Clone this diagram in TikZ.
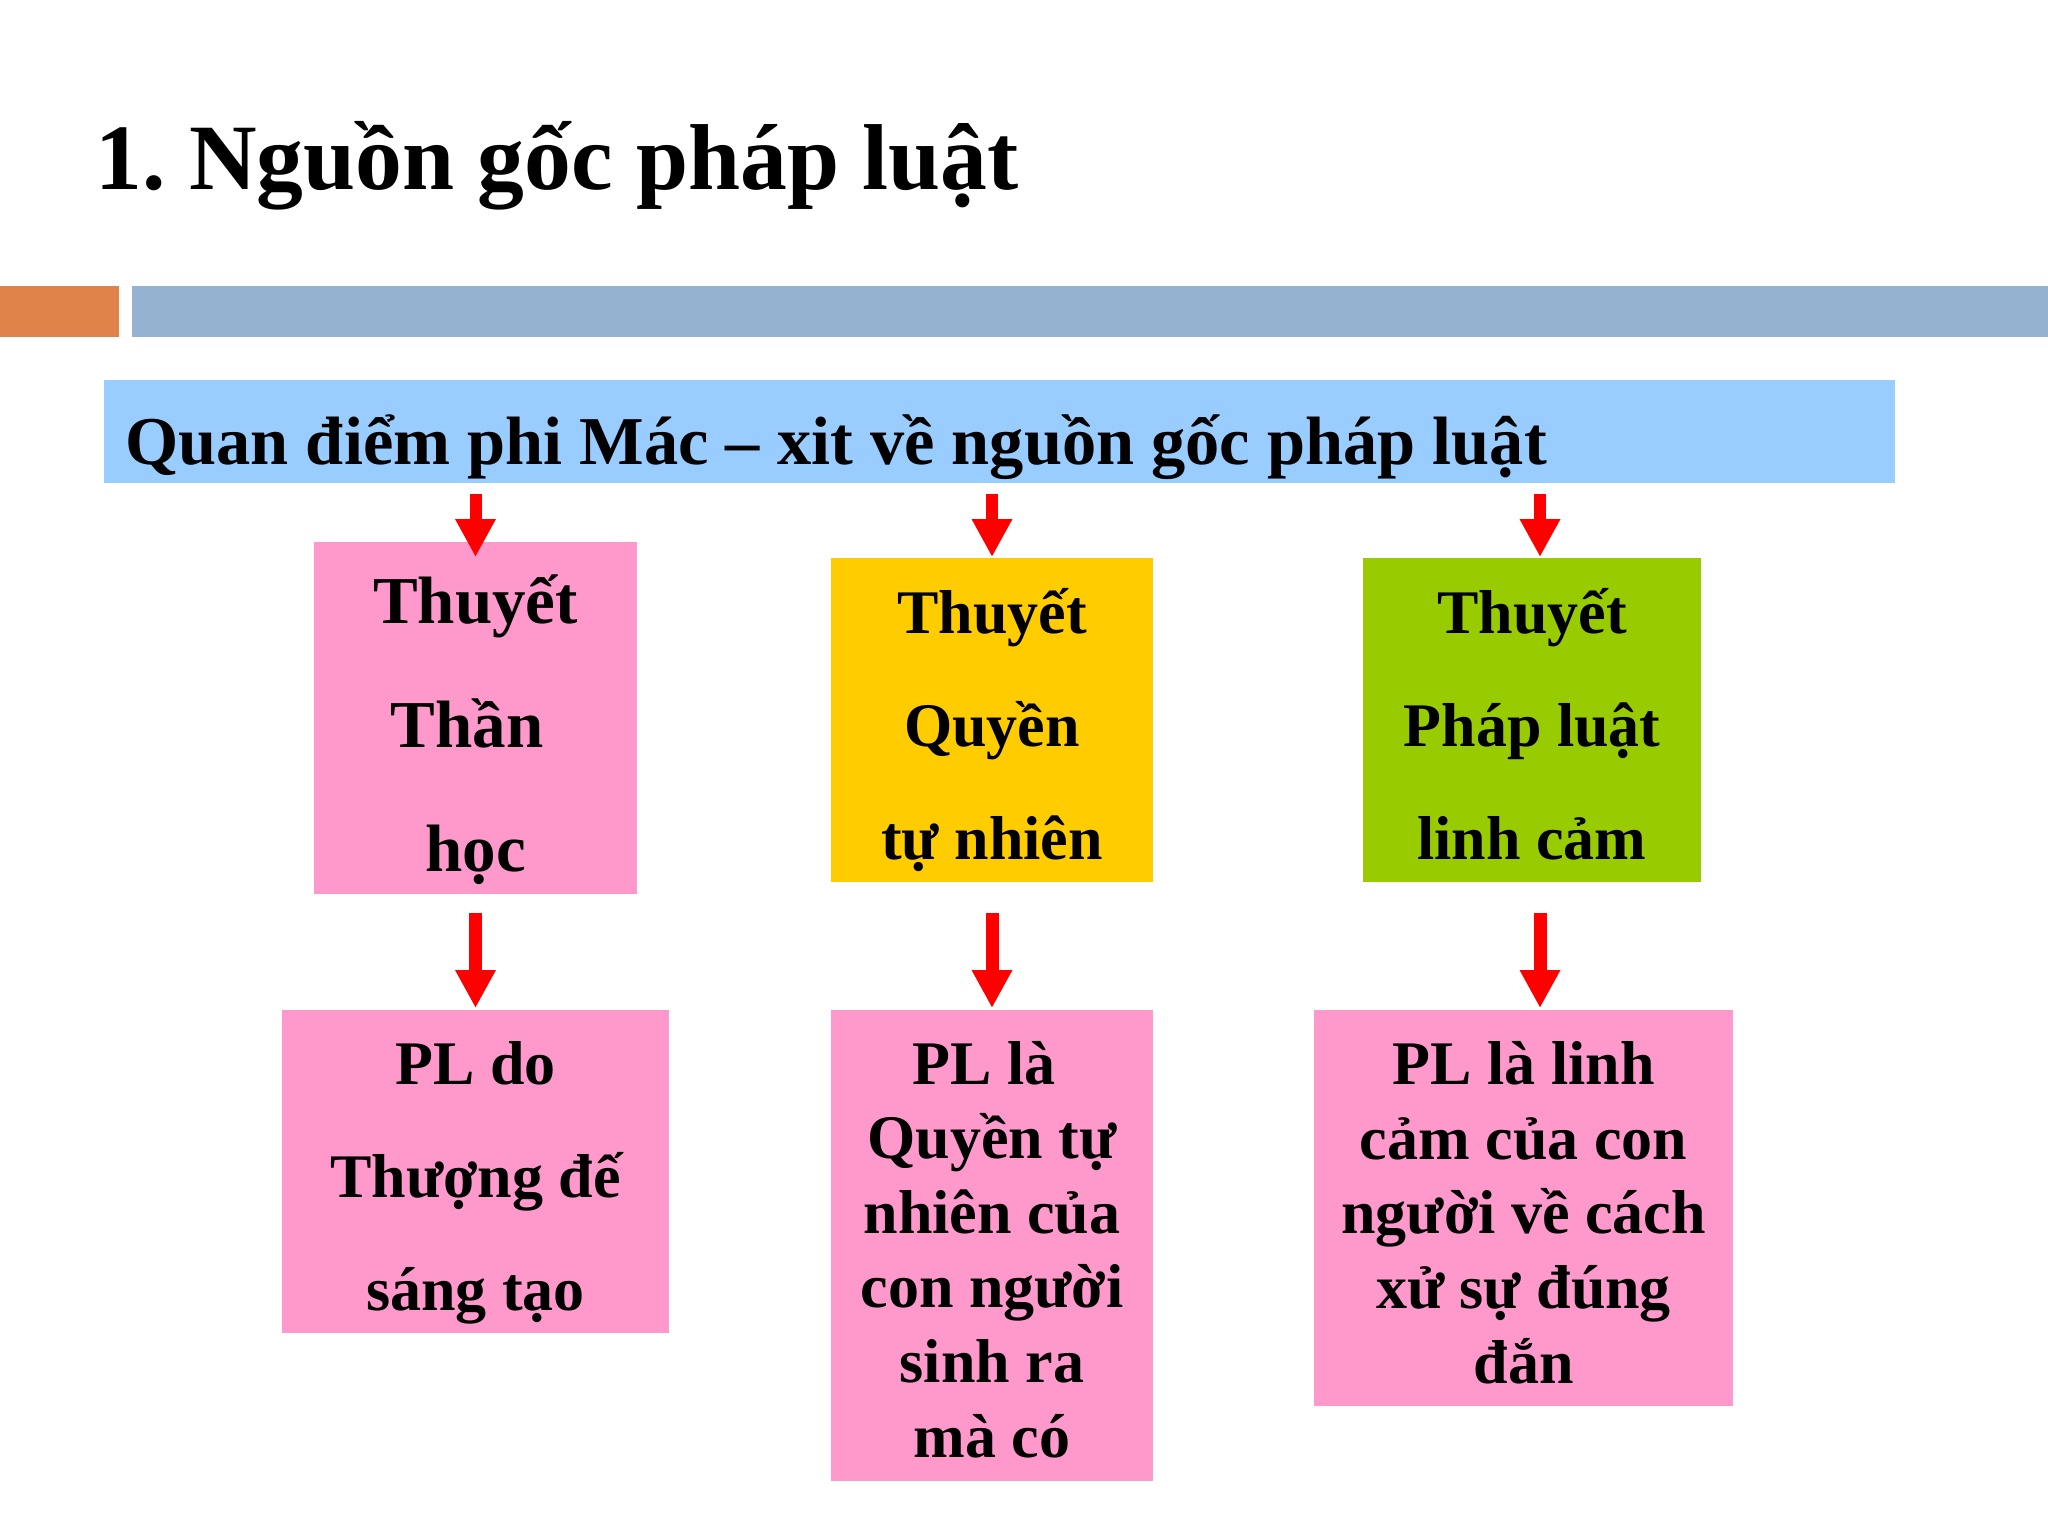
\documentclass[tikz,border=0pt]{standalone}
\usepackage{fontspec}
\setmainfont{Liberation Serif}
\usetikzlibrary{arrows.meta}
\frenchspacing
\definecolor{barorange}{RGB}{224,131,75}
\definecolor{barblue}{RGB}{149,179,208}
\definecolor{bannerblue}{RGB}{153,204,255}
\definecolor{boxpink}{RGB}{255,153,204}
\definecolor{boxyellow}{RGB}{255,204,0}
\definecolor{boxgreen}{RGB}{153,204,0}
\newcommand{\trailsp}{\rule{0.25em}{0pt}}
\tikzset{
  flatbox/.style={draw=none, inner sep=0pt, outer sep=0pt, rectangle},
  txt/.style={inner sep=0pt, outer sep=0pt, align=center, anchor=base, font=\bfseries},
  redarrow/.style={draw=red, line width=6pt, -{Triangle[width=19pt,length=19pt]}, red},
}
\begin{document}
\begin{tikzpicture}[x=0.5pt,y=-0.5pt]
\useasboundingbox (0,0) rectangle (2048,1536);
\fill[white] (0,0) rectangle (2048,1536);
% title
\node[inner sep=0pt, anchor=base west, font=\fontsize{46.8pt}{56pt}\selectfont\bfseries] (title) at (95,189) {1. Nguồn gốc pháp luật};
% header bars
\node[flatbox, fill=barorange, minimum width=59.5pt, minimum height=25.5pt, anchor=north west] (orangebar) at (0,286) {};
\node[flatbox, fill=barblue, minimum width=958pt, minimum height=25.5pt, anchor=north west] (bluebar) at (132,286) {};
% banner
\node[flatbox, fill=bannerblue, minimum width=895.5pt, minimum height=51.5pt, anchor=north west] (banner) at (104,380) {};
\node[inner sep=0pt, anchor=base west, font=\fontsize{34.2pt}{40pt}\selectfont\bfseries] (bannertext) at (125,464) {Quan điểm phi Mác – xit về nguồn gốc pháp luật};
% boxes
\node[flatbox, fill=boxpink, minimum width=161.5pt, minimum height=176pt] (b1) at (475.5,718) {};
\node[flatbox, fill=boxyellow, minimum width=161pt, minimum height=162pt] (b2) at (992,720) {};
\node[flatbox, fill=boxgreen, minimum width=169pt, minimum height=162pt] (b3) at (1532,720) {};
\node[flatbox, fill=boxpink, minimum width=193.5pt, minimum height=161.5pt] (b4) at (475.5,1171.5) {};
\node[flatbox, fill=boxpink, minimum width=161pt, minimum height=235.5pt] (b5) at (992,1245.5) {};
\node[flatbox, fill=boxpink, minimum width=209.5pt, minimum height=198pt] (b6) at (1523.5,1208) {};
% texts (anchor=base is the baseline of the last line)
\node[txt, font=\fontsize{33.5pt}{62pt}\selectfont\bfseries] (t1) at (475.5,871) {Thuyết\\Thần\trailsp\\học};
\node[txt, font=\fontsize{31pt}{56.5pt}\selectfont\bfseries] (t2) at (992,859) {Thuyết\\Quyền\\tự nhiên};
\node[txt, font=\fontsize{31pt}{56.5pt}\selectfont\bfseries] (t3) at (1532,859) {Thuyết\\Pháp luật\\linh cảm};
\node[txt, font=\fontsize{31pt}{56.5pt}\selectfont\bfseries] (t4) at (475.5,1310) {PL do\\Thượng đế\\sáng tạo};
\node[txt, font=\fontsize{31pt}{37.3pt}\selectfont\bfseries] (t5) at (992,1457) {PL là\trailsp\\Quyền tự\\nhiên của\\con người\\sinh ra\\mà có};
\node[txt, font=\fontsize{31pt}{37.3pt}\selectfont\bfseries] (t6) at (1523.5,1383) {PL là linh\\cảm của con\\người về cách\\xử sự đúng\\đắn};
% arrows
\coordinate (c3) at (1540,0);
\draw[redarrow] ([yshift=-5.5pt]banner.south -| b1.north) -- ([yshift=-7.5pt]b1.north);
\draw[redarrow] ([yshift=-5.5pt]banner.south -| b2.north) -- ([yshift=0.5pt]b2.north);
\draw[redarrow] ([yshift=-5.5pt]banner.south -| c3) -- ([yshift=0.5pt]b3.north -| c3);
\draw[redarrow, line width=6.5pt] ([yshift=-9.5pt]b1.south) -- ([yshift=1pt]b4.north);
\draw[redarrow, line width=6.5pt] ([yshift=-15.5pt]b2.south) -- ([yshift=1pt]b5.north);
\draw[redarrow, line width=6.5pt] ([yshift=-15.5pt]b3.south -| c3) -- ([yshift=1pt]b6.north -| c3);
\end{tikzpicture}
\end{document}
